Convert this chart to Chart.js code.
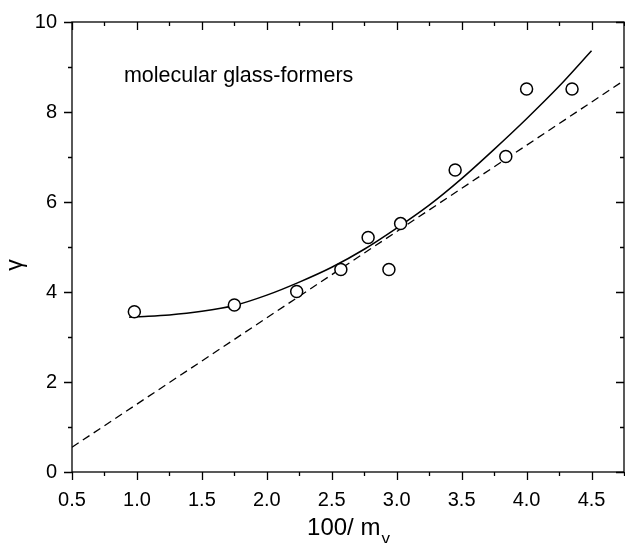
<!DOCTYPE html>
<html>
<head>
<meta charset="utf-8">
<script src="https://cdn.jsdelivr.net/npm/chart.js@4.4.1/dist/chart.umd.min.js"></script>
<style>
  html, body { margin: 0; padding: 0; background: #fff; }
  canvas { display: block; }
</style>
</head>
<body>
<canvas id="myChart" width="625" height="543"></canvas>
<script>
// pontos medidos (100/m, gamma)
const pontosX = [0.98, 1.75, 2.23, 2.57, 2.78, 2.94, 3.03, 3.45, 3.84, 4.00, 4.35];
const pontosY = [3.56, 3.71, 4.01, 4.50, 5.21, 4.50, 5.52, 6.71, 7.01, 8.51, 8.51];

// curva ajustada (linha cheia)
const curvaX = [0.94, 1.00, 1.25, 1.50, 1.75, 2.00, 2.25, 2.50, 2.75, 3.00, 3.25, 3.50, 3.75, 4.00, 4.25, 4.50];
const curvaY = [3.44, 3.45, 3.49, 3.57, 3.70, 3.93, 4.22, 4.55, 4.95, 5.42, 5.93, 6.52, 7.17, 7.85, 8.57, 9.36];

// reta tracejada
const retaX = [0.5, 4.75];
const retaY = [0.55, 8.70];

const xTicks = [0.5, 1.0, 1.5, 2.0, 2.5, 3.0, 3.5, 4.0, 4.5];
const yTicks = [0, 2, 4, 6, 8, 10];

const fonte = '"Liberation Sans", Arial, Helvetica, sans-serif';

function pares(xs, ys) {
  return xs.map((x, i) => ({ x: x, y: ys[i] }));
}

// desenha moldura, ticks (maiores e menores), titulos e anotacao
const eixosPlugin = {
  id: 'eixos',
  afterDatasetsDraw(chart) {
    const ctx = chart.ctx;
    const a = chart.chartArea;
    const sx = chart.scales.x;
    const sy = chart.scales.y;
    ctx.save();
    ctx.strokeStyle = '#000';
    ctx.lineWidth = 1.3;
    ctx.strokeRect(a.left, a.top, a.right - a.left, a.bottom - a.top);

    ctx.beginPath();
    for (let v = 0.5; v <= 4.751; v += 0.25) {
      const px = Math.round(sx.getPixelForValue(v)) + 0.5;
      const major = xTicks.some(t => Math.abs(t - v) < 1e-6);
      const len = major ? 8 : 4;
      ctx.moveTo(px, a.bottom); ctx.lineTo(px, a.bottom + len);
      ctx.moveTo(px, a.top); ctx.lineTo(px, a.top + len);
    }
    for (let v = 0; v <= 10; v += 1) {
      const py = Math.round(sy.getPixelForValue(v)) + 0.5;
      const major = yTicks.indexOf(v) >= 0;
      const len = major ? 8 : 4;
      ctx.moveTo(a.left, py); ctx.lineTo(a.left - len, py);
      ctx.moveTo(a.right, py); ctx.lineTo(a.right - len, py);
    }
    ctx.stroke();

    ctx.fillStyle = '#000';
    // anotacao
    ctx.font = '21.5px ' + fonte;
    ctx.textAlign = 'left';
    ctx.textBaseline = 'alphabetic';
    ctx.fillText('molecular glass-formers', sx.getPixelForValue(0.9), sy.getPixelForValue(8.67));

    // titulo eixo x: 100/ m com gamma subscrito
    ctx.font = '24px ' + fonte;
    const t1 = '100/ m';
    const w1 = ctx.measureText(t1).width;
    ctx.font = '17px ' + fonte;
    const w2 = ctx.measureText('γ').width;
    const x0 = (a.left + a.right) / 2 - (w1 + w2) / 2;
    ctx.font = '24px ' + fonte;
    ctx.fillText(t1, x0, a.bottom + 63);
    ctx.font = '17px ' + fonte;
    ctx.fillText('γ', x0 + w1 + 1, a.bottom + 72);

    // titulo eixo y
    ctx.translate(22, (a.top + a.bottom) / 2 + 18);
    ctx.rotate(-Math.PI / 2);
    ctx.font = '23px ' + fonte;
    ctx.textAlign = 'center';
    ctx.fillText('γ', 0, 0);
    ctx.restore();
  }
};

const ctx = document.getElementById('myChart').getContext('2d');
const myChart = new Chart(ctx, {
  type: 'scatter',
  data: {
    datasets: [
      {
        data: pares(pontosX, pontosY),
        pointRadius: 6,
        pointBorderWidth: 1.5,
        pointBorderColor: '#000',
        pointBackgroundColor: '#fff',
        showLine: false
      },
      {
        data: pares(curvaX, curvaY),
        showLine: true,
        pointRadius: 0,
        borderColor: '#000',
        borderWidth: 1.5,
        cubicInterpolationMode: 'monotone'
      },
      {
        data: pares(retaX, retaY),
        showLine: true,
        pointRadius: 0,
        borderColor: '#000',
        borderWidth: 1.3,
        borderDash: [8, 5]
      }
    ]
  },
  options: {
    responsive: false,
    animation: false,
    devicePixelRatio: 1,
    layout: { autoPadding: false, padding: { top: 22, right: 1, left: 0, bottom: 0 } },
    plugins: {
      legend: { display: false },
      tooltip: { enabled: false }
    },
    scales: {
      x: {
        type: 'linear',
        min: 0.5,
        max: 4.75,
        grid: { display: false, drawTicks: false },
        border: { display: false },
        afterFit: (s) => { s.height = 71; s.paddingLeft = 0; s.paddingRight = 0; },
        afterBuildTicks: (s) => { s.ticks = xTicks.map(v => ({ value: v })); },
        ticks: {
          color: '#000',
          padding: 16,
          maxRotation: 0,
          font: { family: fonte, size: 20 },
          callback: (v) => Number(v).toFixed(1)
        }
      },
      y: {
        type: 'linear',
        min: 0,
        max: 10,
        grid: { display: false, drawTicks: false },
        border: { display: false },
        afterFit: (s) => { s.width = 72; s.paddingTop = 0; s.paddingBottom = 0; },
        afterBuildTicks: (s) => { s.ticks = yTicks.map(v => ({ value: v })); },
        ticks: {
          color: '#000',
          padding: 15,
          font: { family: fonte, size: 20 }
        }
      }
    }
  },
  plugins: [eixosPlugin]
});
</script>
</body>
</html>
